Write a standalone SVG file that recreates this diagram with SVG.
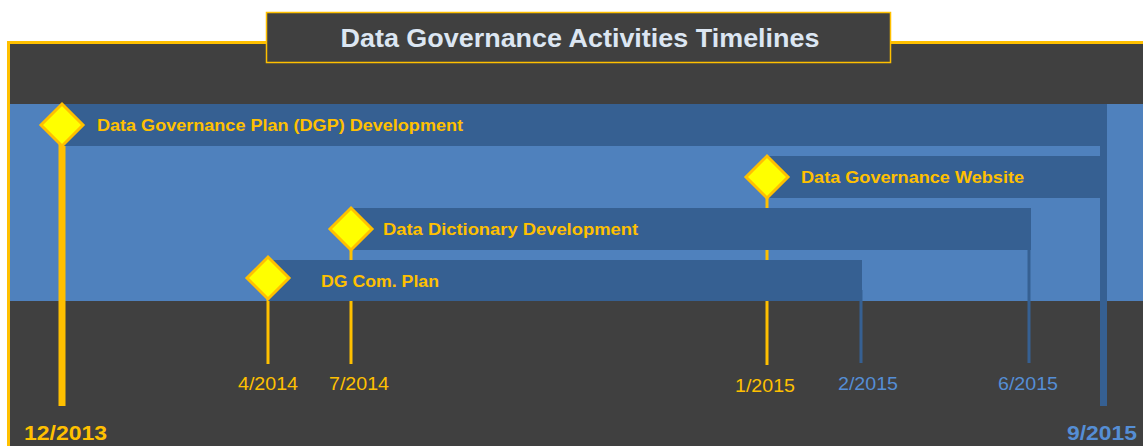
<svg xmlns="http://www.w3.org/2000/svg" width="1143" height="446" viewBox="0 0 1143 446">
  <defs>
    <style>
      .frame { fill: #404040; stroke: #ffc000; }
      .band { fill: #4f81bd; }
      .bar { fill: #366092; }
      .tick-y { stroke: #ffc000; }
      .tick-b { stroke: #366092; }
      .diamond { fill: #ffff00; stroke: #ffc000; stroke-width: 3; }
      .label { font-family: "Liberation Sans", Arial, sans-serif; font-weight: bold; font-size: 16px; fill: #ffc000; }
      .date { font-family: "Liberation Sans", Arial, sans-serif; font-size: 18px; text-anchor: middle; }
      .date-big { font-family: "Liberation Sans", Arial, sans-serif; font-size: 20px; font-weight: bold; }
      .yel { fill: #ffc000; }
      .blu { fill: #558ed5; }
      .title { font-family: "Liberation Sans", Arial, sans-serif; font-weight: bold; font-size: 25px; fill: #dce6f2; text-anchor: middle; }
    </style>
    <polygon id="dia" class="diamond" points="0,-21 21,0 0,21 -21,0"/>
  </defs>

  <!-- outer panel -->
  <rect class="frame" x="8.5" y="42.5" width="1140" height="410" stroke-width="3"/>

  <!-- light blue band behind the activity bars -->
  <rect class="band" x="10" y="104" width="1133" height="197"/>

  <!-- connectors: date ticks -->
  <g id="connectors">
    <line class="tick-y" x1="62" y1="125" x2="62" y2="406" stroke-width="7"/>
    <line class="tick-y" x1="268" y1="278" x2="268" y2="364" stroke-width="3"/>
    <line class="tick-y" x1="351" y1="229" x2="351" y2="364" stroke-width="3"/>
    <line class="tick-y" x1="767" y1="177" x2="767" y2="365" stroke-width="3"/>
    <line class="tick-b" x1="861" y1="290" x2="861" y2="363" stroke-width="3"/>
    <line class="tick-b" x1="1029" y1="240" x2="1029" y2="363" stroke-width="3"/>
    <line class="tick-b" x1="1103.5" y1="104" x2="1103.5" y2="406" stroke-width="7"/>
  </g>

  <!-- activity: DGP development -->
  <g id="dgp">
    <rect class="bar" x="62" y="104" width="1045" height="42"/>
    <use href="#dia" x="62" y="125"/>
    <text class="label" x="97" y="131" textLength="366" lengthAdjust="spacingAndGlyphs">Data Governance Plan (DGP) Development</text>
  </g>

  <!-- activity: website -->
  <g id="website">
    <rect class="bar" x="767" y="156" width="336" height="42"/>
    <use href="#dia" x="767" y="177"/>
    <text class="label" x="801" y="183" textLength="223" lengthAdjust="spacingAndGlyphs">Data Governance Website</text>
  </g>

  <!-- activity: data dictionary -->
  <g id="dictionary">
    <rect class="bar" x="351" y="208" width="680" height="42"/>
    <use href="#dia" x="351" y="229"/>
    <text class="label" x="383" y="235" textLength="255" lengthAdjust="spacingAndGlyphs">Data Dictionary Development</text>
  </g>

  <!-- activity: communication plan -->
  <g id="complan">
    <rect class="bar" x="268" y="260" width="594" height="41"/>
    <use href="#dia" x="268" y="278"/>
    <text class="label" x="321" y="287" textLength="118" lengthAdjust="spacingAndGlyphs">DG Com. Plan</text>
  </g>

  <!-- date labels -->
  <g id="dates">
    <text class="date yel" x="268" y="390" textLength="60" lengthAdjust="spacingAndGlyphs">4/2014</text>
    <text class="date yel" x="359" y="390" textLength="60" lengthAdjust="spacingAndGlyphs">7/2014</text>
    <text class="date yel" x="765" y="392" textLength="60" lengthAdjust="spacingAndGlyphs">1/2015</text>
    <text class="date blu" x="868" y="390" textLength="60" lengthAdjust="spacingAndGlyphs">2/2015</text>
    <text class="date blu" x="1028" y="390" textLength="60" lengthAdjust="spacingAndGlyphs">6/2015</text>
    <text class="date-big yel" x="24" y="440" textLength="83" lengthAdjust="spacingAndGlyphs">12/2013</text>
    <text class="date-big blu" x="1067" y="440" textLength="70" lengthAdjust="spacingAndGlyphs">9/2015</text>
  </g>

  <!-- title box -->
  <g id="title">
    <rect class="frame" x="266.5" y="12.5" width="624" height="50" stroke-width="1.5"/>
    <text class="title" x="580" y="47" textLength="479" lengthAdjust="spacingAndGlyphs">Data Governance Activities Timelines</text>
  </g>
</svg>
